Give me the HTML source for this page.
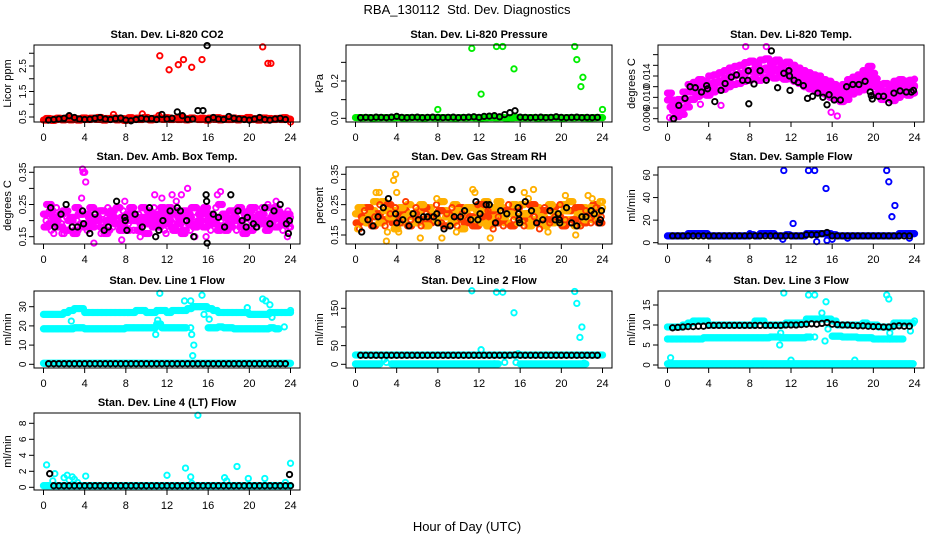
<!DOCTYPE html>
<html><head><meta charset="utf-8"><style>
body{margin:0;background:#fff}
svg{display:block;font-family:"Liberation Sans",sans-serif}
</style></head><body>
<svg id="chart" width="936" height="540" viewBox="0 0 936 540">
<rect width="936" height="540" fill="#fff"/>
<text x="467" y="14" text-anchor="middle" font-size="13">RBA_130112&#160; Std. Dev. Diagnostics</text>
<text x="467" y="531" text-anchor="middle" font-size="13">Hour of Day (UTC)</text>
</svg>
<script>
// ---- data ----
const xTicks=[0,4,8,12,16,20,24];
// P1 CO2
const co2RedA=[0.38,0.42,0.40,0.44,0.41,0.39,0.43,0.40,0.42,0.45,0.41,0.40,0.44,0.42,0.39,0.43,0.41,0.40,0.45,0.42,0.44,0.40,0.43,0.41,0.46,0.42,0.40,0.44,0.41,0.43,0.40,0.42,0.45,0.41,0.39,0.43,0.40,0.42,0.44,0.41,0.40,0.43,0.42,0.39,0.41,0.44,0.40,0.42,0.30];
const co2RedB=[0.44,0.37,0.45,0.39,0.47,0.42,0.38,0.46,0.40,0.43,0.48,0.38,0.41,0.46,0.43,0.37,0.47,0.44,0.40,0.48,0.39,0.45,0.42,0.47,0.40,0.44,0.48,0.39,0.46,0.42,0.45,0.38,0.43,0.47,0.44,0.40,0.46,0.39,0.43,0.48,0.42,0.38,0.46,0.44,0.40,0.43,0.47,0.41];
const co2RedOutX=[11.3,12.2,13.1,13.6,14.4,15.4,21.3,21.8,22.1,6.8,9.6,11.2];
const co2RedOutY=[2.9,2.35,2.55,2.75,2.45,2.75,3.25,2.6,2.6,0.6,0.62,0.56];
const co2Black=[0.38,0.40,0.42,0.45,0.55,0.48,0.42,0.40,0.41,0.45,0.48,0.42,0.40,0.44,0.46,0.38,0.35,0.40,0.45,0.42,0.44,0.40,0.60,0.42,0.45,0.70,0.55,0.40,0.42,0.75,0.75,0.40,0.48,0.42,0.40,0.52,0.45,0.42,0.40,0.38,0.42,0.48,0.40,0.38,0.42,0.45,0.40];
const co2BlackOutX=[15.9];
const co2BlackOutY=[3.3];
// P2 pressure
const presGreen=[0.004,0.003,0.004,0.002,0.003,0.004,0.003,0.003,0.004,0.002,0.003,0.004,0.003,0.002,0.004,0.003,0.003,0.004,0.003,0.002,0.004,0.003,0.004,0.003,0.002,0.003,0.004,0.003,0.004,0.002,0.003,0.004,0.003,0.003,0.004,0.002,0.003,0.004,0.003,0.003,0.002,0.004,0.003,0.004,0.003,0.002,0.003,0.004,0.003];
const presGreenOutX=[11.3,12.2,13.7,14.3,15.4,21.3,21.5,21.9,22.1,8.0,24.0];
const presGreenOutY=[0.375,0.13,0.385,0.385,0.265,0.385,0.315,0.17,0.22,0.047,0.047];
const presBlack=[0.004,0.005,0.004,0.006,0.005,0.004,0.006,0.010,0.005,0.004,0.005,0.006,0.004,0.005,0.006,0.005,0.004,0.005,0.006,0.004,0.005,0.006,0.008,0.005,0.010,0.012,0.014,0.008,0.020,0.030,0.040,0.006,0.005,0.004,0.005,0.006,0.004,0.005,0.008,0.005,0.004,0.005,0.006,0.004,0.005,0.004,0.005];
// P3 Li temp
const ltMid=[0.0095,0.0075,0.0080,0.0095,0.0110,0.0115,0.0120,0.0118,0.0125,0.0128,0.0130,0.0135,0.0140,0.0142,0.0145,0.0148,0.0150,0.0147,0.0152,0.0155,0.0150,0.0153,0.0148,0.0150,0.0145,0.0140,0.0135,0.0130,0.0128,0.0125,0.0120,0.0115,0.0110,0.0105,0.0110,0.0120,0.0125,0.0128,0.0135,0.0145,0.0120,0.0110,0.0112,0.0108,0.0115,0.0120,0.0118,0.0120,0.0122];
const ltHi=[0.0108,0.0090,0.0096,0.0110,0.0124,0.0128,0.0133,0.0130,0.0140,0.0142,0.0146,0.0150,0.0155,0.0158,0.0160,0.0165,0.0168,0.0160,0.0170,0.0172,0.0165,0.0170,0.0162,0.0166,0.0160,0.0155,0.0150,0.0146,0.0142,0.0140,0.0133,0.0130,0.0124,0.0120,0.0124,0.0133,0.0138,0.0142,0.0150,0.0158,0.0135,0.0124,0.0126,0.0122,0.0130,0.0133,0.0130,0.0132,0.0134];
const ltLo=[0.0082,0.0064,0.0068,0.0082,0.0096,0.0102,0.0106,0.0104,0.0110,0.0114,0.0115,0.0120,0.0124,0.0126,0.0130,0.0132,0.0135,0.0132,0.0136,0.0140,0.0136,0.0138,0.0134,0.0135,0.0130,0.0126,0.0120,0.0116,0.0114,0.0110,0.0106,0.0100,0.0096,0.0092,0.0096,0.0106,0.0110,0.0114,0.0120,0.0130,0.0106,0.0096,0.0098,0.0094,0.0100,0.0106,0.0104,0.0108,0.0110];
const ltOutX=[0.2,0.5,1.0,7.6,9.6,15.9,16.5,5.2,3.2,1.5];
const ltOutY=[0.0062,0.0060,0.0065,0.0195,0.0195,0.0072,0.0065,0.0085,0.0087,0.0071];
const ltBlackX=[0.6,1.1,1.7,2.2,2.7,3.3,3.8,3.9,4.6,5.2,5.6,6.2,6.7,7.3,7.8,7.85,7.9,8.4,9.0,9.6,10.1,10.7,11.3,11.8,11.85,11.9,12.3,12.7,13.2,13.6,14.1,14.6,15.1,15.5,15.7,16.2,16.8,17.4,18.0,18.6,19.2,19.7,19.8,19.9,20.5,21.0,21.5,22.0,22.6,23.2,23.7,23.9];
const ltBlackY=[0.0060,0.0085,0.0098,0.0120,0.0118,0.0110,0.0122,0.0116,0.0092,0.0113,0.0126,0.0138,0.0142,0.0132,0.0132,0.0150,0.0088,0.0125,0.0150,0.0132,0.0187,0.0118,0.0145,0.0150,0.0140,0.0113,0.0132,0.0128,0.0122,0.0098,0.0102,0.0108,0.0100,0.0086,0.0105,0.0095,0.0095,0.0120,0.0124,0.0124,0.0130,0.0110,0.0103,0.0097,0.0102,0.0102,0.0090,0.0108,0.0112,0.0110,0.0110,0.0113];
// P4 amb temp
const ambA=[0.22,0.19,0.21,0.18,0.23,0.20,0.17,0.22,0.19,0.24,0.21,0.18,0.20,0.23,0.19,0.21,0.17,0.22,0.20,0.24,0.19,0.21,0.18,0.23,0.20,0.22,0.19,0.17,0.21,0.24,0.20,0.18,0.22,0.19,0.25,0.21,0.18,0.23,0.20,0.22,0.17,0.21,0.19,0.24,0.20,0.18,0.22,0.19,0.21];
const ambB=[0.18,0.23,0.20,0.22,0.17,0.21,0.24,0.19,0.22,0.18,0.20,0.23,0.17,0.21,0.24,0.18,0.22,0.20,0.17,0.21,0.23,0.18,0.22,0.19,0.24,0.17,0.21,0.23,0.19,0.18,0.22,0.24,0.19,0.21,0.18,0.17,0.23,0.20,0.18,0.21,0.24,0.19,0.22,0.17,0.21,0.23,0.19,0.22,0.18];
const ambC=[0.20,0.17,0.24,0.19,0.21,0.18,0.20,0.23,0.17,0.21,0.19,0.22,0.24,0.18,0.20,0.23,0.19,0.17,0.22,0.19,0.21,0.24,0.20,0.17,0.22,0.19,0.23,0.20,0.17,0.21,0.19,0.22,0.17,0.24,0.20,0.22,0.19,0.17,0.23,0.19,0.21,0.18,0.24,0.20,0.22,0.19,0.17,0.23,0.20];
const ambD=[0.25,0.21,0.18,0.23,0.20,0.16,0.22,0.18,0.21,0.20,0.23,0.16,0.22,0.19,0.17,0.20,0.24,0.21,0.19,0.16,0.22,0.20,0.24,0.21,0.18,0.23,0.16,0.22,0.24,0.19,0.23,0.20,0.21,0.17,0.22,0.19,0.21,0.24,0.16,0.23,0.19,0.22,0.20,0.18,0.24,0.21,0.20,0.18,0.22];
const ambOutX=[0.3,1.0,1.8,3.8,3.85,4.0,4.1,3.7,4.9,5.6,7.6,9.4,10.8,11.5,11.9,12.5,13.4,14.7,15.8,16.9,17.2,21.8,22.6,23.7,2.0,7.9,12.9,20.6,14.0];
const ambOutY=[0.25,0.16,0.16,0.36,0.35,0.35,0.32,0.27,0.13,0.16,0.14,0.15,0.28,0.27,0.16,0.28,0.28,0.15,0.15,0.28,0.29,0.25,0.26,0.15,0.16,0.26,0.26,0.24,0.30];
const ambBlackX=[0.7,1.1,1.7,2.2,2.8,3.3,3.8,3.9,4.5,5.0,5.9,6.3,7.1,7.9,7.95,8.1,8.9,9.6,10.3,10.9,11.2,11.6,12.3,13.0,13.3,13.9,14.6,15.8,15.85,15.9,16.5,17.0,17.6,18.2,18.9,19.3,19.7,19.8,20.4,20.7,21.5,22.0,22.4,23.0,23.6,23.8,23.9];
const ambBlackY=[0.24,0.18,0.22,0.25,0.18,0.18,0.23,0.19,0.16,0.22,0.17,0.18,0.26,0.21,0.20,0.17,0.22,0.18,0.24,0.15,0.17,0.20,0.23,0.24,0.23,0.20,0.15,0.28,0.26,0.13,0.22,0.21,0.18,0.28,0.23,0.20,0.18,0.21,0.19,0.18,0.24,0.19,0.23,0.25,0.19,0.16,0.20];
// P5 RH
const rhA=[0.22,0.24,0.19,0.23,0.21,0.26,0.20,0.23,0.22,0.19,0.25,0.21,0.23,0.20,0.24,0.22,0.19,0.23,0.21,0.25,0.20,0.22,0.24,0.21,0.23,0.26,0.20,0.22,0.24,0.19,0.23,0.21,0.25,0.22,0.20,0.24,0.21,0.23,0.19,0.22,0.25,0.20,0.23,0.21,0.24,0.22,0.20,0.23,0.24];
const rhB=[0.19,0.21,0.24,0.18,0.22,0.20,0.25,0.19,0.21,0.23,0.18,0.22,0.20,0.24,0.19,0.21,0.23,0.18,0.22,0.20,0.24,0.19,0.21,0.18,0.25,0.21,0.23,0.19,0.20,0.23,0.18,0.24,0.20,0.22,0.25,0.19,0.23,0.20,0.24,0.21,0.18,0.23,0.20,0.24,0.19,0.21,0.25,0.19,0.21];
const rhC=[0.24,0.20,0.22,0.26,0.19,0.23,0.21,0.17,0.24,0.21,0.22,0.19,0.25,0.18,0.22,0.20,0.26,0.21,0.19,0.23,0.17,0.24,0.20,0.23,0.19,0.18,0.24,0.26,0.21,0.22,0.25,0.19,0.22,0.18,0.23,0.21,0.18,0.25,0.22,0.19,0.23,0.26,0.18,0.22,0.20,0.24,0.22,0.26,0.20];
const rhD=[0.17,0.23,0.20,0.21,0.25,0.18,0.22,0.24,0.19,0.26,0.20,0.24,0.18,0.22,0.21,0.25,0.19,0.22,0.24,0.18,0.22,0.20,0.18,0.25,0.21,0.23,0.17,0.21,0.18,0.25,0.20,0.22,0.18,0.25,0.21,0.17,0.24,0.19,0.21,0.25,0.20,0.19,0.24,0.18,0.23,0.19,0.24,0.21,0.22];
const rhOutX=[0.2,2.0,2.3,3.0,3.1,3.7,3.9,4.0,4.2,6.3,7.9,8.4,9.8,11.4,11.6,13.1,16.4,16.8,17.3,18.7,20.4,21.4,22.6,23.0,23.9];
const rhOutY=[0.17,0.29,0.29,0.13,0.16,0.33,0.35,0.29,0.16,0.14,0.27,0.14,0.16,0.30,0.29,0.14,0.29,0.27,0.30,0.16,0.28,0.15,0.28,0.27,0.26];
const rhBlackX=[0.6,1.2,1.7,2.2,2.7,3.2,3.9,4.0,4.6,5.2,5.6,6.1,6.6,7.0,7.6,7.9,8.0,8.6,9.2,9.6,10.2,10.6,11.2,11.7,11.9,12.1,12.7,13.0,13.6,14.1,14.7,15.2,15.8,15.85,15.9,15.95,16.5,17.1,17.6,18.2,18.9,19.4,19.7,19.8,19.85,20.5,21.0,21.5,22.0,22.4,22.9,23.2,23.7,23.8,23.9];
const rhBlackY=[0.16,0.20,0.18,0.21,0.24,0.27,0.22,0.19,0.20,0.18,0.22,0.20,0.21,0.21,0.21,0.22,0.19,0.17,0.18,0.21,0.21,0.23,0.20,0.26,0.20,0.22,0.25,0.25,0.19,0.23,0.22,0.30,0.24,0.22,0.20,0.19,0.26,0.23,0.19,0.20,0.23,0.20,0.22,0.20,0.19,0.24,0.19,0.18,0.21,0.21,0.23,0.22,0.19,0.20,0.23];
// P6 sample flow
const sfBlue=[6,6,6,6,8,8,8,8,6,6,6,6,6,6,6,6,7,6,8,8,8,6,6,7,6,6,6,8,8,8,8,8,7,6,6,6,6,6,6,6,6,6,6,6,6,8,8,8,8];
const sfBlueOutX=[11.3,13.7,14.3,15.4,12.2,21.3,21.5,21.8,22.1,11.2,14.5,15.5,16.0,8.0,10.0,17.5,23.5];
const sfBlueOutY=[64,64,64,48,17,64,54,23,33,3,1,2,3,8,8,4,4];
const sfBlack=[6,6,6,6,6,6,6,6,6,6,6,6,6,6,6,6,6,6,6,6,6,6,6,6,6,6,7,7,7,8,9,6,6,6,6,6,6,6,6,6,6,6,6,6,6,6,6];
// P7 line 1
const l1Upper=[26,26,26,26,27,28,29,29,27,27,27,27,27,27,27,27,27,27,28,28,27,27,28,28,27,28,28,28,29,30,30,30,29,28,27,27,27,27,27,27,26,26,26,26,27,27,27,27,27];
const l1LowerA=[18.5,18.5,18.5,18.5,18.5,18.5,19,19,18.5,18.5,18.5,18.5,18.5,18.5,18.5,18.5,19,19,19,19,19,19,21,19,19,19,19,19];
const l1LowerB=[19,19,19.5,19,19,18.5,18.5,18.5,18.5,18.5,18.5,18.5,19,18.5];
const l1Bottom=[0.5,0.5,0.5,0.5,0.5,0.5,0.5,0.5,0.5,0.5,0.5,0.5,0.5,0.5,0.5,0.5,0.5,0.5,0.5,0.5,0.5,0.5,0.5,0.5,0.5,0.5,0.5,0.5,0.5,0.5,0.5,0.5,0.5,0.5,0.5,0.5,0.5,0.5,0.5,0.5,0.5,0.5,0.5,0.5,0.5,0.5,0.5,0.5,0.5];
const l1OutX=[11.3,15.4,13.7,14.3,2.7,21.3,21.6,22.0,23.4,16.1,22.2,10.9,11.1,14.3,14.4,14.6,14.5,15.6,19.8,24.0];
const l1OutY=[37,36,33,33,22.5,34,33,31,19.5,23.5,24.5,15.5,23,19,15.5,10,4.5,26,29.5,28];
const l1Black=[0.3,0.3,0.3,0.3,0.3,0.3,0.3,0.3,0.3,0.3,0.3,0.3,0.3,0.3,0.3,0.3,0.3,0.3,0.3,0.3,0.3,0.3,0.3,0.3,0.3,0.3,0.3,0.3,0.3,0.3,0.3,0.3,0.3,0.3,0.3,0.3,0.3,0.3,0.3,0.3,0.3,0.3,0.3,0.3,0.3,0.3,0.3];
// P8 line 2
const l2Mid=[25,25,25,25,25,25,25,25,25,25,25,25,25,25,25,25,25,25,25,25,25,25,25,25,25,25,25,25,25,25,25,25,25,25,25,25,25,25,25,25,25,25,25,25,25,25,25,25,25];
const l2LowA=[1,1,1,1,1];
const l2LowB=[1,1,1,1,1,1,1,1,1,1,1,1,1,1,1,1,1,1,1,1,1];
const l2LowC=[1,1,1,1,1,1,1,1,1,1,1,1,1];
const l2OutX=[11.3,13.7,14.3,15.4,12.2,21.3,21.5,22.0,21.8,2.8,3.0,14.5,15.6,15.8,22.2];
const l2OutY=[197,193,193,138,39,195,163,100,72,13,5,5,5,28,3];
const l2Black=[24,24,24,24,24,24,24,24,24,24,24,24,24,24,24,24,24,24,24,24,24,24,24,24,24,24,24,24,24,24,25,24,24,24,24,24,24,24,24,24,24,24,24,24,24,24,24];
// P9 line 3
const l3Upper=[9.5,9.5,9.5,10,10.5,11,11,11,10,10,10,10,10,10,10,10,10,11,11,10,10,10,10,10.5,10.5,10.5,10.5,11.5,11.5,11.5,11.5,11.5,11,10,10,10,10,10,10.5,10,10,9.5,9.5,9.5,10.5,10.5,10.5,10.5,11];
const l3MidA=[6.5,6.5,6.5,6.5,6.5,6.5,6.5,6.8,6.8,6.8,6.8,6.8,6.8,6.8,6.8,6.8,6.8,6.8,6.8,6.8,7,7,6.8,6.8,6.8,6.8,6.8,7];
const l3MidB=[7.2,7.2,7,7,7,6.8,6.8,6.8,6.5,6.5,6.5,6.5,6.5,6.5];
const l3Bottom=[0.3,0.3,0.3,0.3,0.3,0.3,0.3,0.3,0.3,0.3,0.3,0.3,0.3,0.3,0.3,0.3,0.3,0.3,0.3,0.3,0.3,0.3,0.3,0.3,0.3,0.3,0.3,0.3,0.3,0.3,0.3,0.3,0.3,0.3,0.3,0.3,0.3,0.3,0.3,0.3,0.3,0.3,0.3,0.3,0.3,0.3,0.3,0.3];
const l3OutX=[11.3,13.7,14.3,15.4,15.0,21.3,21.5,10.9,0.3,11.0,12.0,18.2,14.3,15.3,15.6,21.6,23.6];
const l3OutY=[18,17.5,17.5,15.8,13,17.5,16.5,5,1.8,8,1.2,1.2,7,6,9,8,8.5];
const l3Black=[9.3,9.4,9.5,9.6,9.6,9.7,9.7,9.9,9.9,9.9,9.9,9.9,9.9,9.9,9.9,9.9,9.9,9.9,9.9,9.9,9.9,9.9,10,10,10,10.1,10.2,10.3,10.2,10.4,10.6,10.2,10.1,10,10,9.9,9.8,9.8,9.7,9.6,9.6,9.5,9.5,9.7,9.8,9.7,9.7];
// P10 line 4
const l4Cyan=[0.2,0.2,0.2,0.2,0.2,0.2,0.2,0.2,0.2,0.2,0.2,0.2,0.2,0.2,0.2,0.2,0.2,0.2,0.2,0.2,0.2,0.2,0.2,0.2,0.2,0.2,0.2,0.2,0.2,0.2,0.2,0.2,0.2,0.2,0.2,0.2,0.2,0.2,0.2,0.2,0.2,0.2,0.2,0.2,0.2,0.2,0.2,0.2,0.2];
const l4OutX=[0.3,1.1,0.9,2.0,2.3,2.8,3.0,4.1,12.0,13.8,14.3,14.4,15.0,17.6,17.8,18.8,19.9,21.5,23.5,24.0,2.5,3.3];
const l4OutY=[2.8,1.7,0.8,1.2,1.5,1.3,1.0,1.4,1.5,2.4,1.3,0.5,9.0,1.2,0.8,2.6,1.1,1.1,0.6,3.0,0.9,0.6];
const l4Black=[0.2,0.2,0.2,0.2,0.2,0.2,0.2,0.2,0.2,0.2,0.2,0.2,0.2,0.2,0.2,0.2,0.2,0.2,0.2,0.2,0.2,0.2,0.2,0.2,0.2,0.2,0.2,0.2,0.2,0.2,0.2,0.2,0.2,0.2,0.2,0.2,0.2,0.2,0.2,0.2,0.2,0.2,0.2,0.2,0.2,0.2,0.2];
const l4BlackOutX=[0.6,23.9];
const l4BlackOutY=[1.7,1.6];

// ---- layout ----
const NS='http://www.w3.org/2000/svg';
const svg=document.getElementById('chart');
const colL=[34,346,658], rowT=[45,167,291,413], W=266, H=77;
const K='#000',R='#ff0000',G='#00ee00',M='#ff00ff',B='#0000ff',C='#00ffff',O='#ffb000',OR='#ff3a00';
// dense: draw each sample also at quarter-step sub-offsets so a band reads as continuous
function reg(x0,step,ys,col,dense){return {x0:x0,step:step,ys:ys,col:col,dense:dense};}
function pts(xs,ys,col){return {xs:xs,ys:ys,col:col};}
const panels=[
 {name:'co2',c:0,r:0,title:'Stan. Dev. Li-820 CO2',yl:'Licor ppm',map:[0.5,117,2.5,66],ticks:[0.5,1,1.5,2,2.5,3],labs:['0.5','1.5','2.5'],fmt:1,
  s:[reg(0,0.5,co2RedA,R,1),reg(0.25,0.5,co2RedB,R,1),pts(co2RedOutX,co2RedOutY,R),reg(0.5,0.5,co2Black,K),pts(co2BlackOutX,co2BlackOutY,K)]},
 {name:'pressure',c:1,r:0,title:'Stan. Dev. Li-820 Pressure',yl:'kPa',map:[0,118.3,0.2,81],ticks:[0,0.1,0.2,0.3],labs:['0.0','0.2'],fmt:1,
  s:[reg(0,0.5,presGreen,G,1),pts(presGreenOutX,presGreenOutY,G),reg(0.5,0.5,presBlack,K)]},
 {name:'li-temp',c:2,r:0,title:'Stan. Dev. Li-820 Temp.',yl:'degrees C',map:[0.006,118.7,0.014,76],ticks:[0.006,0.008,0.010,0.012,0.014,0.016,0.018],labs:['0.006','0.010','0.014'],fmt:3,
  s:[reg(0,0.5,ltHi,M,1),reg(0.25,0.5,ltMid,M,1),reg(0,0.5,ltMid,M,1),reg(0.25,0.5,ltLo,M,1),pts(ltOutX,ltOutY,M),pts(ltBlackX,ltBlackY,K)]},
 {name:'amb-temp',c:0,r:1,title:'Stan. Dev. Amb. Box Temp.',yl:'degrees C',map:[0.15,236.7,0.35,172.3],ticks:[0.15,0.2,0.25,0.3,0.35],labs:['0.15','0.25','0.35'],fmt:2,
  s:[reg(0,0.5,ambA,M,1),reg(0.0625,0.5,ambB,M,1),reg(0.25,0.5,ambC,M),reg(0.375,0.5,ambD,M,1),pts(ambOutX,ambOutY,M),pts(ambBlackX,ambBlackY,K)]},
 {name:'rh',c:1,r:1,title:'Stan. Dev. Gas Stream RH',yl:'percent',map:[0.15,235,0.35,174.3],ticks:[0.15,0.2,0.25,0.3,0.35],labs:['0.15','0.25','0.35'],fmt:2,
  s:[reg(0,0.5,rhA,O,1),reg(0.0625,0.5,rhB,OR,1),reg(0.25,0.5,rhC,O,1),reg(0.375,0.5,rhD,OR),pts(rhOutX,rhOutY,O),pts(rhBlackX,rhBlackY,K)]},
 {name:'sample-flow',c:2,r:1,title:'Stan. Dev. Sample Flow',yl:'ml/min',map:[0,242.7,60,175],ticks:[0,20,40,60],labs:['0','20','40','60'],fmt:0,
  s:[reg(0,0.5,sfBlue,B,1),pts(sfBlueOutX,sfBlueOutY,B),reg(0.5,0.5,sfBlack,K)]},
 {name:'line1-flow',c:0,r:2,title:'Stan. Dev. Line 1 Flow',yl:'ml/min',map:[0,364.3,30,306.7],ticks:[0,10,20,30],labs:['0','10','20','30'],fmt:0,
  s:[reg(0,0.5,l1Upper,C,1),reg(0,0.5,l1LowerA,C,1),reg(16,0.5,l1LowerB,C,1),reg(0,0.5,l1Bottom,C,1),pts(l1OutX,l1OutY,C),reg(0.5,0.5,l1Black,K)]},
 {name:'line2-flow',c:1,r:2,title:'Stan. Dev. Line 2 Flow',yl:'ml/min',map:[0,364.3,150,308.3],ticks:[0,50,100,150],labs:['0','50','150'],fmt:0,
  s:[reg(0,0.5,l2Mid,C,1),reg(0,0.5,l2LowA,C,1),reg(3.5,0.5,l2LowB,C,1),reg(13.5,0.5,l2LowB.slice(0,1),C),reg(16,0.5,l2LowC,C,1),pts(l2OutX,l2OutY,C),reg(0.5,0.5,l2Black,K)]},
 {name:'line3-flow',c:2,r:2,title:'Stan. Dev. Line 3 Flow',yl:'ml/min',map:[0,365,15,305],ticks:[0,5,10,15],labs:['0','5','10','15'],fmt:0,
  s:[reg(0,0.5,l3Upper,C,1),reg(0,0.5,l3MidA,C,1),reg(16,0.5,l3MidB,C,1),reg(0,0.5,l3Bottom,C,1),pts(l3OutX,l3OutY,C),reg(0.5,0.5,l3Black,K)]},
 {name:'line4-flow',c:0,r:3,title:'Stan. Dev. Line 4 (LT) Flow',yl:'ml/min',map:[0,487.3,8,423.3],ticks:[0,2,4,6,8],labs:['0','2','4','6','8'],fmt:0,
  s:[reg(0,0.5,l4Cyan,C,1),pts(l4OutX,l4OutY,C),reg(1,0.5,l4Black,K),pts(l4BlackOutX,l4BlackOutY,K)]}
];
function mk(tag,attrs,parent){const e=document.createElementNS(NS,tag);for(const k in attrs)e.setAttribute(k,attrs[k]);(parent||svg).appendChild(e);return e;}
panels.forEach(p=>{
  const L=colL[p.c],T=rowT[p.r],Bt=T+H;
  const xs=h=>L+9.5+h*(W-19)/24;
  const ys=v=>p.map[1]+(v-p.map[0])*(p.map[3]-p.map[1])/(p.map[2]-p.map[0]);
  const g=mk('g',{});
  
  
  const t=mk('text',{x:L+W/2,y:T-7,'text-anchor':'middle','font-size':'11','font-weight':'bold'},g);
  t.textContent=p.title;
  
  
  const pg=mk('g',{fill:'none','stroke-width':'1.9'},g);
  
  
  p.s.forEach(s=>{
    const offs=s.dense?[0,0.125,0.25,0.375]:[0];
    s.ys.forEach((v,i)=>{
      offs.forEach(o=>{
        const h=s.xs?s.xs[i]:s.x0+i*s.step+o;
        if(h>24.05) return;
        const c=mk('circle',{cx:xs(h).toFixed(1),cy:ys(v).toFixed(1),r:'2.7',stroke:s.col},pg);
        
        
      });
    });
  });
  const box=mk('rect',{x:L,y:T,width:W,height:H,fill:'none',stroke:'#000','stroke-width':'1'},g);
  
  
  const xa=mk('g',{},g);
  
  
  mk('line',{x1:xs(0),x2:xs(24),y1:Bt,y2:Bt,stroke:'#000'},xa);
  xTicks.forEach(h=>{
    mk('line',{x1:xs(h),x2:xs(h),y1:Bt,y2:Bt+5,stroke:'#000'},xa);
    const tl=mk('text',{x:xs(h),y:Bt+19,'text-anchor':'middle','font-size':'11'},xa);
    tl.textContent=h;
    
    
  });
  const ya=mk('g',{},g);
  
  
  p.ticks.forEach(v=>{
    const y=ys(v);
    mk('line',{x1:L-5,x2:L,y1:y,y2:y,stroke:'#000'},ya);
    const s=v.toFixed(p.fmt);
    if(p.labs.indexOf(s)>=0){
      const tl=mk('text',{x:L-8,y:y,'text-anchor':'middle','font-size':'10',transform:'rotate(-90 '+(L-8)+' '+y+')'},ya);
      tl.textContent=s;
      
      
    }
  });
  const yt=mk('text',{x:L-23,y:T+H/2,'text-anchor':'middle','font-size':'11',transform:'rotate(-90 '+(L-23)+' '+(T+H/2)+')'},g);
  yt.textContent=p.yl;
  
  
});
</script>
</body></html>
